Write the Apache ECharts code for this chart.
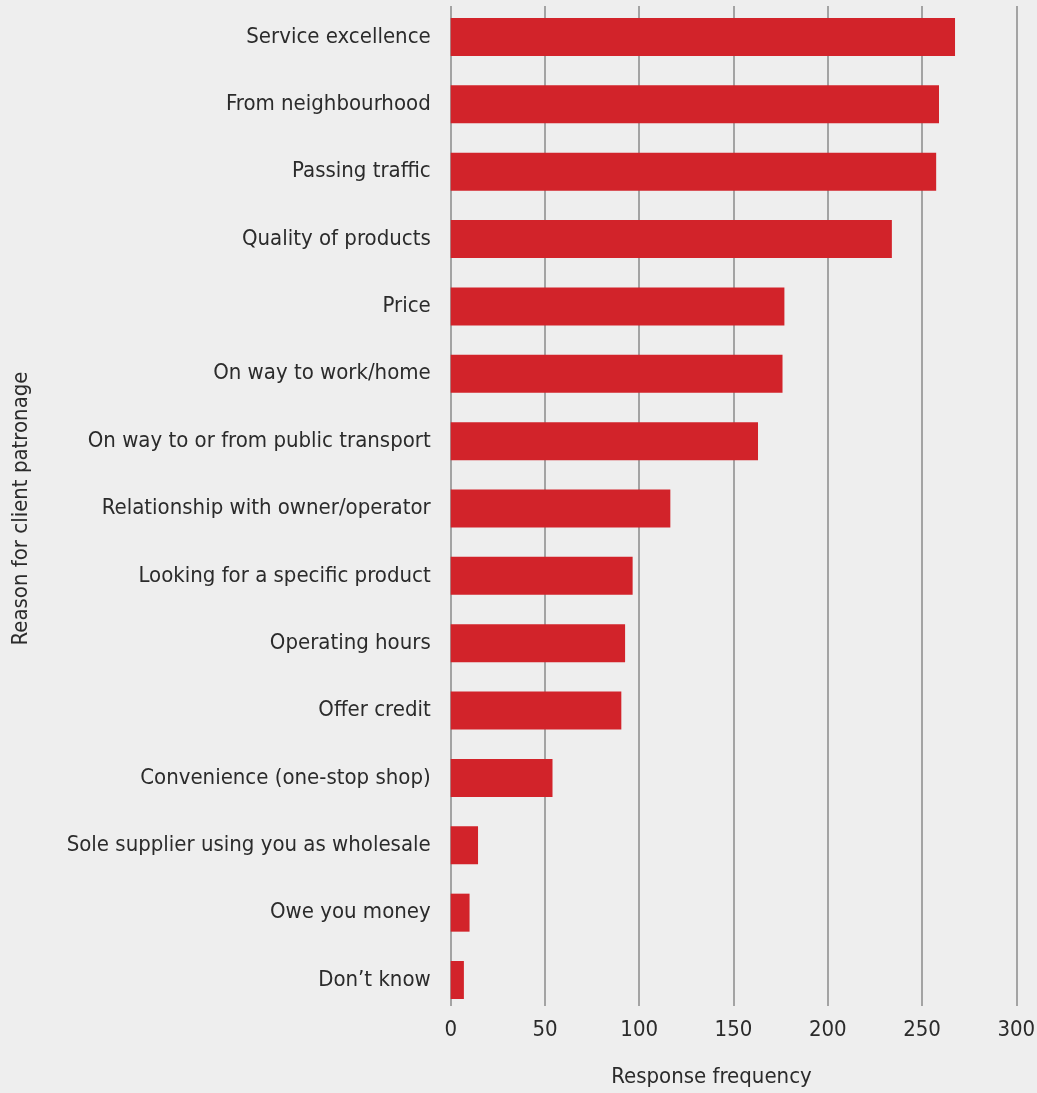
<!DOCTYPE html>
<html>
<head>
<meta charset="utf-8">
<script src="https://cdn.jsdelivr.net/npm/echarts@6/dist/echarts.min.js"></script>
<style>
  html, body { margin: 0; padding: 0; background: #eeeeee; }
  #main { width: 1037px; height: 1093px; }
</style>
</head>
<body>
<div id="main"></div>
<script>
let reasons = [
    'Service excellence',
    'From neighbourhood',
    'Passing traffic',
    'Quality of products',
    'Price',
    'On way to work/home',
    'On way to or from public transport',
    'Relationship with owner/operator',
    'Looking for a specific product',
    'Operating hours',
    'Offer credit',
    'Convenience (one-stop shop)',
    'Sole supplier using you as wholesale',
    'Owe you money',
    'Don\u2019t know'
];
let frequency = [267.5, 259, 257.5, 234, 177, 176, 163, 116.5, 96.5, 92.5, 90.5, 54, 14.5, 10, 7];

let fontName = '"DejaVu Sans Condensed", "Liberation Sans Narrow", Roboto, sans-serif';
let textColor = '#2b2b2b';
let fSize = 22;

let myChart = echarts.init(document.getElementById('main'));
let option = {
    backgroundColor: '#eeeeee',
    animation: false,
    textStyle: { fontFamily: fontName },
    grid: [
        // bars
        { left: 450.7, right: 20.7, top: 3.3, height: 1010.4, containLabel: false, outerBoundsMode: 'none' },
        // vertical grid lines only
        { left: 450.7, right: 20.7, top: 6, height: 1000, containLabel: false, outerBoundsMode: 'none' }
    ],
    xAxis: [{
        type: 'value',
        gridIndex: 0,
        min: 0,
        max: 300,
        interval: 50,
        name: 'Response frequency',
        nameLocation: 'middle',
        nameGap: 53,
        nameTextStyle: { color: textColor, fontSize: fSize, fontFamily: fontName, padding: [0, 44, 0, 0] },
        axisLine: { show: false },
        axisTick: { show: false },
        splitLine: { show: false },
        axisLabel: { color: textColor, fontSize: fSize, fontFamily: fontName, margin: 6 }
    }, {
        type: 'value',
        gridIndex: 1,
        min: 0,
        max: 300,
        interval: 50,
        axisLine: { show: false },
        axisTick: { show: false },
        axisLabel: { show: false },
        splitLine: { show: true, lineStyle: { color: '#a3a3a3', width: 2 } }
    }],
    yAxis: [{
        type: 'category',
        gridIndex: 0,
        data: reasons,
        inverse: true,
        name: 'Reason for client patronage',
        nameLocation: 'middle',
        nameGap: 418,
        nameTextStyle: { color: textColor, fontSize: fSize, fontFamily: fontName },
        axisLine: { show: false },
        axisTick: { show: false },
        axisLabel: { color: textColor, fontSize: fSize, fontFamily: fontName, margin: 20 }
    }, {
        type: 'category',
        gridIndex: 1,
        data: reasons,
        show: false
    }],
    series: [{
        name: 'Response frequency',
        type: 'bar',
        xAxisIndex: 0,
        yAxisIndex: 0,
        data: frequency,
        barWidth: 38,
        itemStyle: { color: '#d2232a' }
    }]
};
myChart.setOption(option);
</script>
</body>
</html>
